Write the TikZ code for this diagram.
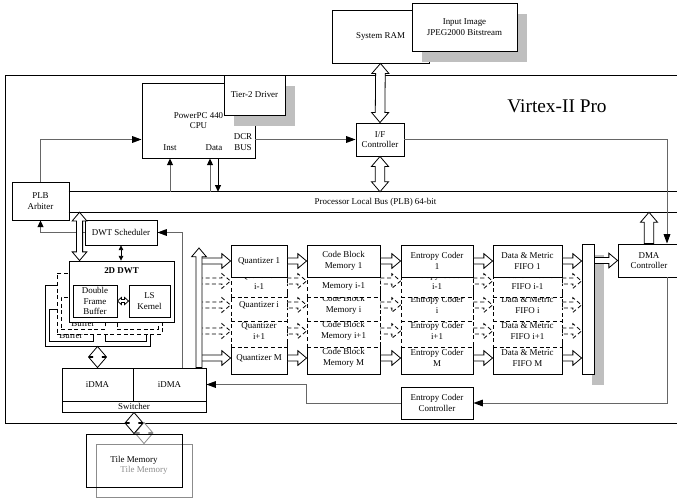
\documentclass[tikz,border=0pt]{standalone}
\usepackage{fontspec}
\setmainfont{Liberation Serif}
\usetikzlibrary{arrows.meta, calc, shadows, positioning}

\newcommand{\boxfont}{\fontsize{6.7pt}{7.8pt}\selectfont}

\tikzset{
  fat width/.store in=\fatw, fat head/.store in=\fath, fat len/.store in=\fatl,
  fat width=2.3, fat head=5.5, fat len=6.5,
  fatbig/.style={fat width=3.6, fat head=6.4, fat len=7.5},
  fattiny/.style={fat width=1.1, fat head=2.7, fat len=3},
  fat/.style={draw, fill=white, line width=0.6pt, line join=miter},
  dsh/.style={dash pattern=on 3pt off 2pt},
  box/.style={draw, fill=white, line width=0.7pt, inner sep=0pt, align=center, font=\boxfont},
  boxshadow/.style={drop shadow={opacity=1, fill=black!25, shadow xshift=7.5pt, shadow yshift=-8pt}},
  wire/.style={draw=black!60, line width=0.7pt, -{Triangle[length=7pt,width=5pt,color=black]}},
  shortwire/.style={wire, -{Triangle[length=5pt,width=4.5pt,color=black]}},
  lbl/.style={inner sep=0pt, font=\boxfont, align=center},
}

% hollow bus arrows
\newcommand{\fatarrow}[3][]{%
  \path[fat,#1] let \p1=(#2), \p2=(#3), \n1={veclen(\x2-\x1,\y2-\y1)},
    \n2={(\x2-\x1)/\n1}, \n3={(\y2-\y1)/\n1} in
    ({\x1-\fatw*(\n3)},{\y1+\fatw*(\n2)})
    -- ({\x2-\fatl*(\n2)-\fatw*(\n3)},{\y2-\fatl*(\n3)+\fatw*(\n2)})
    -- ({\x2-\fatl*(\n2)-\fath*(\n3)},{\y2-\fatl*(\n3)+\fath*(\n2)})
    -- (\p2)
    -- ({\x2-\fatl*(\n2)+\fath*(\n3)},{\y2-\fatl*(\n3)-\fath*(\n2)})
    -- ({\x2-\fatl*(\n2)+\fatw*(\n3)},{\y2-\fatl*(\n3)-\fatw*(\n2)})
    -- ({\x1+\fatw*(\n3)},{\y1-\fatw*(\n2)}) -- cycle;}
\newcommand{\fatdouble}[3][]{%
  \path[fat,#1] let \p1=(#2), \p2=(#3), \n1={veclen(\x2-\x1,\y2-\y1)},
    \n2={(\x2-\x1)/\n1}, \n3={(\y2-\y1)/\n1} in
    (\p1)
    -- ({\x1+\fatl*(\n2)-\fath*(\n3)},{\y1+\fatl*(\n3)+\fath*(\n2)})
    -- ({\x1+\fatl*(\n2)-\fatw*(\n3)},{\y1+\fatl*(\n3)+\fatw*(\n2)})
    -- ({\x2-\fatl*(\n2)-\fatw*(\n3)},{\y2-\fatl*(\n3)+\fatw*(\n2)})
    -- ({\x2-\fatl*(\n2)-\fath*(\n3)},{\y2-\fatl*(\n3)+\fath*(\n2)})
    -- (\p2)
    -- ({\x2-\fatl*(\n2)+\fath*(\n3)},{\y2-\fatl*(\n3)-\fath*(\n2)})
    -- ({\x2-\fatl*(\n2)+\fatw*(\n3)},{\y2-\fatl*(\n3)-\fatw*(\n2)})
    -- ({\x1+\fatl*(\n2)+\fatw*(\n3)},{\y1+\fatl*(\n3)-\fatw*(\n2)})
    -- ({\x1+\fatl*(\n2)+\fath*(\n3)},{\y1+\fatl*(\n3)-\fath*(\n2)})
    -- cycle;}

\begin{document}
\begin{tikzpicture}[x=0.75pt, y=-0.75pt]
\useasboundingbox (0,0) rectangle (677,501);
% FPGA
\node[draw, line width=0.7pt, minimum width=513.75pt, minimum height=261pt, inner sep=0pt] (fpga) at (347.5,249) {};
\node[font=\fontsize{14.5pt}{17pt}\selectfont] (virtex) at (557,106) {Virtex-II Pro};
% external memory
\node[box, minimum width=72.75pt, minimum height=39.75pt] (sysram) at (380.5,36.5) {System RAM};
\node[box, boxshadow, minimum width=78.75pt, minimum height=36pt] (jpeg) at (464.5,27) {Input Image\\JPEG2000 Bitstream};
% processor
\node[box, minimum width=84.75pt, minimum height=56.25pt] (cpu) at (198.5,120.5) {PowerPC 440\\CPU};
\node[box, boxshadow, minimum width=45.75pt, minimum height=30pt] (tier) at (254.5,95) {Tier-2 Driver};
\node[lbl] (inst) at (170,148) {Inst};
\node[lbl] (data) at (214,148) {Data};
\node[lbl] (dcr) at (243,142) {DCR\\BUS};
\node[box, minimum width=36pt, minimum height=24.75pt] (ifc) at (380,139.5) {I/F\\Controller};
\node[box, minimum width=42.75pt, minimum height=28.5pt] (arb) at (40.5,201) {PLB\\Arbiter};
\node[lbl, minimum width=459.75pt, minimum height=15pt] (plb) at (375.5,202) {Processor Local Bus (PLB) 64-bit};
\draw[line width=0.7pt] (plb.north west) -- (plb.north east) (plb.south west) -- (plb.south east);
% bus links
\fatdouble[fatbig]{sysram.south}{ifc.north}
\fatdouble[fatbig]{ifc.south}{ifc.south |- plb.north}
\draw[wire] (arb.north) |- (cpu.west |- ifc.west);
\draw[wire] (cpu.east |- ifc.west) -- (ifc.west);
\draw[shortwire] (inst |- plb.north) -- (inst |- cpu.south);
\draw[shortwire] ($(data |- plb.north)+(-4,0)$) -- ($(data |- cpu.south)+(-4,0)$);
\draw[shortwire, draw=black] ($(data |- cpu.south)+(4,0)$) -- ($(data |- plb.north)+(4,0)$);
\node[box, minimum width=46.5pt, minimum height=24.75pt] (dma) at (649,260.5) {DMA\\Controller};
\draw[wire] (ifc.east) -| ($(dma.north)+(18,0)$);
\fatarrow[fatbig]{dma.north}{dma.north |- plb.south}
\node[box, minimum width=54pt, minimum height=24pt] (ecc) at (437,403) {Entropy Coder\\Controller};
\draw[wire] ($(dma.south)+(18,0)$) |- (ecc.east);
% DWT part
\node[box, minimum width=54pt, minimum height=18.75pt] (sched) at (121,232.5) {DWT Scheduler};
\draw[shortwire] (sched.west) -| (arb.south);
\foreach \o/\lstyle/\dfbtext/\lstext/\dwttext in {24/solid/{\phantom{Double}\\\phantom{Frame}\\Buffer}/{}/{},
    12/dsh/{\phantom{Double}\\\phantom{Frame}\\Buffer}/{}/{}, 0/solid/{Double\\Frame\\Buffer}/{LS\\Kernel}/{2D DWT}}{
  \begin{scope}[shift={(-\o,\o)}]
    \node[box, \lstyle, minimum width=78.75pt, minimum height=45.75pt] (dwt\o) at (121.5,291.5) {};
    \node[lbl, font=\boxfont\bfseries] (dwtname\o) at (121.5,271) {\dwttext};
    \node[box, \lstyle, minimum width=33pt, minimum height=24pt] (dfb\o) at (95,301) {\dfbtext};
    \node[box, \lstyle, minimum width=30.75pt, minimum height=24pt] (lsk\o) at (149.5,301) {\lstext};
    \fatdouble[fattiny, \lstyle]{dfb\o.east}{lsk\o.west}
  \end{scope}
}
\coordinate (dwtport) at ($(dwt0.north west)+(11,0)$);
\fatdouble{dwtport |- plb.south}{dwtport}
\draw[line width=0.6pt, {Triangle[length=3.5pt,width=3.5pt]}-{Triangle[length=3.5pt,width=3.5pt]}] (sched.south) -- (sched.south |- dwt0.north);
% iDMA
\node[box, minimum width=53.25pt, minimum height=24.75pt] (idmaA) at (97.5,384.5) {iDMA};
\node[box, minimum width=54.75pt, minimum height=24.75pt] (idmaB) at (169.5,384.5) {iDMA};
\node[box, minimum width=108pt, minimum height=8.25pt] (switch) at (134,406.5) {Switcher};
\fatdouble[fatbig]{dwt24.south}{dwt24.south |- idmaA.north}
\coordinate (schedtap) at (182,368);
\draw[wire] (schedtap) |- (sched.east);
\draw[wire] (ecc.west) -- ++(-94,0) |- (idmaB.east);
% coding pipeline
\coordinate (trunk) at (199,248);
\node[box, boxshadow, minimum width=9pt, minimum height=97.5pt] (mux) at (588,309) {};
\foreach \rw/\yc/\lstyle/\sub/\qtext in {M/358/solid/M/{Quantizer M}, p/331/dsh/i+1/{Quantizer\\i+1}, i/305/dsh/i/{Quantizer i}, m/281/dsh/i-1/{Quantizer\\i-1}, 1/261/solid/1/{Quantizer 1}}{
  \node[box, \lstyle, minimum width=42pt, minimum height=24pt] (q\rw) at (259,\yc) {\qtext};
  \node[box, \lstyle, minimum width=54.75pt, minimum height=24pt] (c\rw) at (343.5,\yc) {Code Block\\Memory \sub};
  \node[box, \lstyle, minimum width=54pt, minimum height=24pt] (e\rw) at (437,\yc) {Entropy Coder\\\sub};
  \node[box, \lstyle, minimum width=51.75pt, minimum height=24pt] (f\rw) at (527.5,\yc) {Data \& Metric\\FIFO \sub};
  \fatarrow[\lstyle]{trunk |- q\rw.west}{q\rw.west}
  \fatarrow[\lstyle]{q\rw.east}{c\rw.west}
  \fatarrow[\lstyle]{c\rw.east}{e\rw.west}
  \fatarrow[\lstyle]{e\rw.east}{f\rw.west}
  \fatarrow[\lstyle]{f\rw.east}{mux.west |- f\rw.east}
}
\fatarrow{trunk |- idmaB.north}{trunk}
\fatarrow{mux.east |- dma.west}{dma.west}
% tile memory
\node[draw=black!45, line width=0.7pt, minimum width=72pt, minimum height=39.75pt, inner sep=0pt, font=\boxfont, text=black!45] (tileB) at (144,470.5) {Tile Memory};
\fatdouble[fatbig, draw=black!45]{$(switch.south)+(10,10)$}{tileB.north}
\node[draw, line width=0.7pt, minimum width=72pt, minimum height=39.75pt, inner sep=0pt, font=\boxfont] (tileA) at (134,460.5) {Tile Memory};
\fatdouble[fatbig]{switch.south}{tileA.north}
\end{tikzpicture}
\end{document}
